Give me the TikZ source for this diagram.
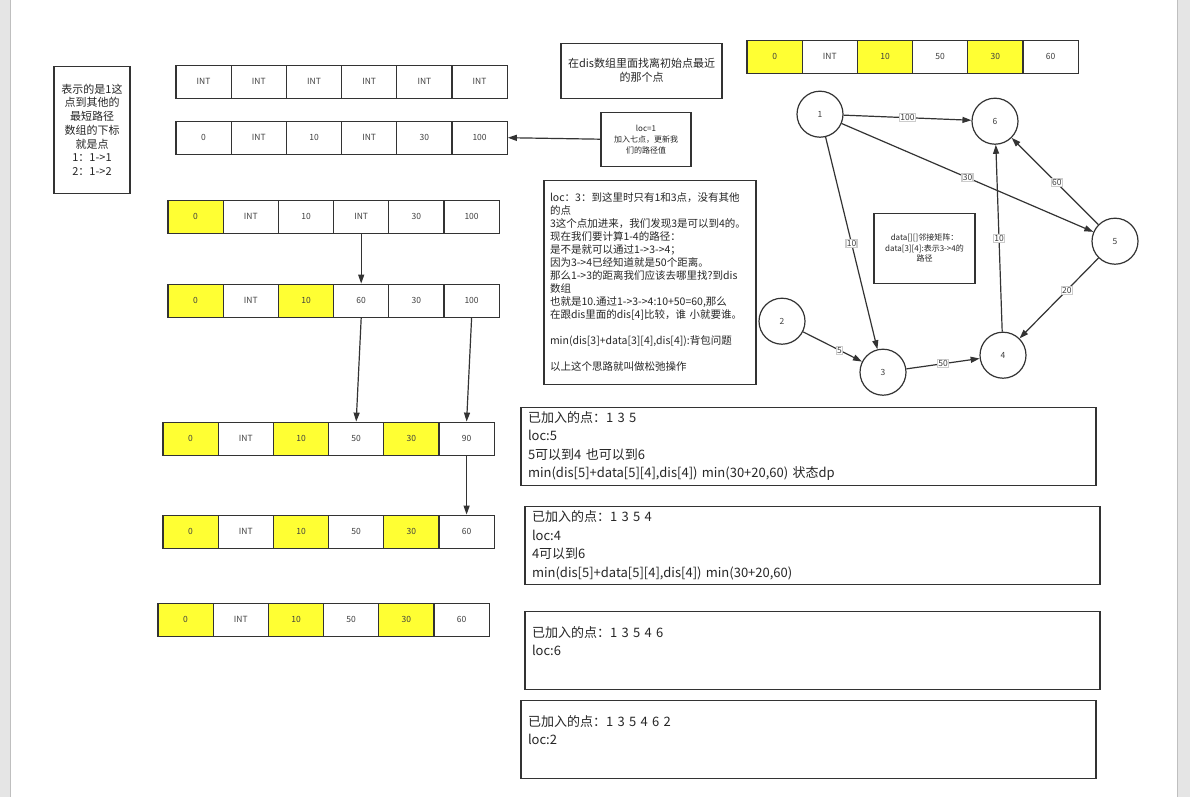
\documentclass[tikz,border=0pt]{standalone}
\usepackage{fontspec}
\setmainfont{Noto Sans CJK SC}
\usetikzlibrary{arrows.meta}
\definecolor{hl}{HTML}{FFFF33}
\definecolor{ink}{HTML}{333333}
\tikzset{
  cell/.style={draw=ink, line width=1.2pt, minimum width=55.2pt, minimum height=33pt, inner sep=0pt, font=\fontsize{8.5}{9}\selectfont, text=black!75},
  note/.style={draw=ink, line width=1.2pt, inner sep=0pt, text=black!85},
  vertex/.style={circle, draw=ink, line width=1.2pt, minimum size=46pt, inner sep=0pt, font=\fontsize{8.5}{9}\selectfont, text=black!75},
  arr/.style={-{Triangle[length=9pt,width=6pt]}, draw=ink, line width=1.2pt},
  wt/.style={fill=white, draw=black!20, inner sep=0.8pt, font=\fontsize{8.5}{9}\selectfont, text=black!75}
}
% one dis[] row: name, left, top, entries value/colour
\newcommand{\disrow}[4]{%
  \foreach \v/\c [count=\i] in {#4}
    \node[cell, fill=\c] (#1-\i) at ({#2+(\i-0.5)*55.2}, {#3+16.5}) {\v};
}
\begin{document}
\begin{tikzpicture}[x=1pt, y=-1pt, >=stealth]
  \fill[black!10] (0,0) rectangle (1190,797);
  \fill[white] (10,0) rectangle (1177,797);
  \draw[black!25] (10,0) -- (10,797) (1177,0) -- (1177,797);
  % arrays
  \disrow{rowA}{176}{65}{INT/white, INT/white, INT/white, INT/white, INT/white, INT/white}
  \disrow{rowB}{176}{121}{0/white, INT/white, 10/white, INT/white, 30/white, 100/white}
  \disrow{rowC}{168}{200}{0/hl, INT/white, 10/white, INT/white, 30/white, 100/white}
  \disrow{rowD}{168}{284}{0/hl, INT/white, 10/hl, 60/white, 30/white, 100/white}
  \disrow{rowE}{163}{422}{0/hl, INT/white, 10/hl, 50/white, 30/hl, 90/white}
  \disrow{rowF}{163}{515}{0/hl, INT/white, 10/hl, 50/white, 30/hl, 60/white}
  \disrow{rowG}{158}{603}{0/hl, INT/white, 10/hl, 50/white, 30/hl, 60/white}
  \disrow{rowT}{747}{40}{0/hl, INT/white, 10/hl, 50/white, 30/hl, 60/white}
  % notes
  \node[note, minimum width=76pt, minimum height=127pt, align=center,
    font=\fontsize{11}{13.7}\selectfont] (idx) at (92,129.5)
    {表示的是1这\\点到其他的\\最短路径\\数组的下标\\就是点\\1：1->1\\2：1->2};
  \node[note, minimum width=161pt, minimum height=55pt, align=center,
    font=\fontsize{11}{14}\selectfont] (find) at (641.5,70.5)
    {在dis数组里面找离初始点最近\\的那个点};
  \node[note, minimum width=90pt, minimum height=54pt, align=center,
    font=\fontsize{8}{11}\selectfont] (loc1) at (646,139)
    {loc=1\\加入七点，更新我\\们的路径值};
  \node[note, minimum width=212pt, minimum height=204pt, text width=200pt, align=left,
    font=\fontsize{10.5}{13}\selectfont] (loc3) at (650,282)
    {loc：3：到这里时只有1和3点，没有其他\\的点\\3这个点加进来，我们发现3是可以到4的。\\现在我们要计算1-4的路径：\\是不是就可以通过1->3->4；\\因为3->4已经知道就是50个距离。\\那么1->3的距离我们应该去哪里找?到dis\\数组\\也就是10.通过1->3->4:10+50=60,那么\\在跟dis里面的dis[4]比较，谁 小就要谁。\\~\\min(dis[3]+data[3][4],dis[4]):背包问题\\~\\以上这个思路就叫做松弛操作};
  \node[note, minimum width=101pt, minimum height=70pt, align=center,
    font=\fontsize{8}{10.5}\selectfont] (adj) at (924.5,248)
    {data[][]邻接矩阵：\\data[3][4]:表示3->4的\\路径};
  % steps
  \tikzset{stepnote/.style={note, minimum width=575pt, minimum height=78pt, text width=561pt,
    align=left, font=\fontsize{13}{18.5}\selectfont}}
  \node[stepnote] (s135) at (808.5,446)
    {已加入的点：1 3 5\\loc:5\\5可以到4 也可以到6\\min(dis[5]+data[5][4],dis[4]) min(30+20,60) 状态dp};
  \node[stepnote] (s1354) at (812.5,545)
    {已加入的点：1 3 5 4\\loc:4\\4可以到6\\min(dis[5]+data[5][4],dis[4]) min(30+20,60)};
  \node[stepnote] (s13546) at (812.5,650)
    {已加入的点：1 3 5 4 6\\loc:6\\~};
  \node[stepnote] (s135462) at (808.5,739)
    {已加入的点：1 3 5 4 6 2\\loc:2\\~};
  % graph
  \node[vertex] (v1) at (820,114) {1};
  \node[vertex] (v6) at (995,121) {6};
  \node[vertex] (v5) at (1115,241) {5};
  \node[vertex] (v2) at (782,321) {2};
  \node[vertex] (v3) at (883,372) {3};
  \node[vertex] (v4) at (1003,355) {4};
  \draw[arr] (v1) -- node[wt] {100} (v6);
  \draw[arr] (v1) -- node[wt] {30} (v5);
  \draw[arr] (v1) -- node[wt] {10} (v3);
  \draw[arr] (v5) -- node[wt, pos=0.48] {60} (v6);
  \draw[arr] (v4) -- node[wt] {10} (v6);
  \draw[arr] (v5) -- node[wt, pos=0.4] {20} (v4);
  \draw[arr] (v2) -- node[wt, pos=0.62] {5} (v3);
  \draw[arr] (v3) -- node[wt] {50} (v4);
  % array arrows
  \draw[arr] (loc1.west) -- (rowB-6.east);
  \draw[arr] (rowC-4.south) -- (rowD-4.north);
  \draw[arr] (rowD-4.south) -- (rowE-4.north);
  \draw[arr] (rowD-6.south) -- (rowE-6.north);
  \draw[arr] (rowE-6.south) -- (rowF-6.north);
\end{tikzpicture}
\end{document}
